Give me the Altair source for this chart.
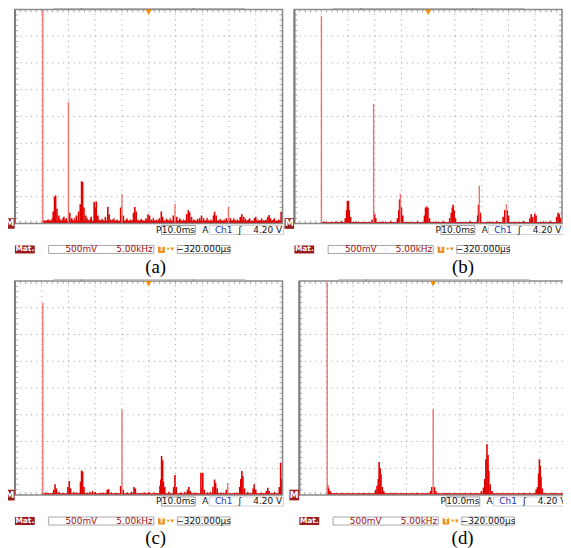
import altair as alt
import pandas as pd
import numpy as np

# ---------------- data (x in screen divisions 0..10, height in divisions 0..8) -------------
# light (thin, pinkish) spectral lines: (position, height)
a_light = [(1.04, 8.0), (2.00, 4.54), (4.00, 1.09), (5.98, 0.74), (7.98, 0.62)]
a_red = [(1.43, 0.45), (1.48, 1.0), (1.52, 1.05), (1.57, 0.55), (1.64, 0.3), (1.83, 0.25),
         (1.92, 0.2), (2.05, 0.4), (2.12, 0.2), (2.30, 0.3), (2.38, 0.45), (2.44, 0.72),
         (2.49, 1.58), (2.53, 1.55), (2.58, 0.6), (2.65, 0.3), (2.85, 0.25), (2.96, 0.8),
         (3.00, 0.6), (3.04, 0.82), (3.10, 0.3), (3.38, 0.25), (3.47, 0.62), (3.52, 0.35),
         (3.95, 0.6), (4.05, 0.3), (4.43, 0.4), (4.48, 0.62), (4.53, 0.45), (4.90, 0.2),
         (4.97, 0.35), (5.03, 0.3), (5.40, 0.2), (5.47, 0.45), (5.52, 0.25), (5.92, 0.3),
         (6.05, 0.25), (6.42, 0.35), (6.48, 0.5), (6.53, 0.42), (6.60, 0.25), (6.90, 0.2),
         (6.97, 0.3), (7.05, 0.2), (7.42, 0.3), (7.46, 0.44), (7.52, 0.3), (7.90, 0.2),
         (8.05, 0.2), (8.42, 0.25), (8.48, 0.35), (8.55, 0.25), (8.95, 0.2), (9.00, 0.25),
         (9.45, 0.25), (9.50, 0.32), (9.55, 0.2), (9.95, 0.44)]
a_noise = [(1.10, 0.12), (1.18, 0.1), (1.26, 0.15), (1.33, 0.12), (1.39, 0.2), (1.68, 0.18),
           (1.74, 0.12), (1.79, 0.2), (1.87, 0.15), (2.17, 0.15), (2.24, 0.22), (2.70, 0.2),
           (2.76, 0.12), (2.82, 0.18), (3.15, 0.15), (3.20, 0.1), (3.26, 0.18), (3.32, 0.12),
           (3.58, 0.15), (3.63, 0.1), (3.70, 0.2), (3.76, 0.12), (3.83, 0.15), (4.12, 0.12),
           (4.18, 0.2), (4.25, 0.1), (4.32, 0.15), (4.38, 0.12), (4.60, 0.15), (4.66, 0.1),
           (4.72, 0.18), (4.78, 0.12), (4.85, 0.1), (5.10, 0.15), (5.17, 0.22), (5.23, 0.1),
           (5.30, 0.15), (5.36, 0.12), (5.60, 0.1), (5.66, 0.18), (5.73, 0.12), (5.80, 0.2),
           (5.86, 0.1), (6.10, 0.12), (6.16, 0.2), (6.22, 0.1), (6.30, 0.15), (6.36, 0.12),
           (6.68, 0.15), (6.75, 0.1), (6.82, 0.18), (7.12, 0.12), (7.18, 0.22), (7.25, 0.1),
           (7.32, 0.15), (7.60, 0.12), (7.67, 0.18), (7.74, 0.1), (7.82, 0.15), (8.12, 0.12),
           (8.18, 0.2), (8.25, 0.1), (8.32, 0.15), (8.62, 0.18), (8.70, 0.12), (8.77, 0.2),
           (8.85, 0.1), (9.08, 0.15), (9.15, 0.1), (9.22, 0.2), (9.30, 0.12), (9.38, 0.15),
           (9.62, 0.12), (9.70, 0.2), (9.77, 0.1), (9.85, 0.15), (9.90, 0.12),
           (1.14, 0.08), (1.22, 0.14), (1.30, 0.09), (1.71, 0.1), (2.20, 0.1), (2.73, 0.14),
           (3.23, 0.13), (3.66, 0.16), (4.21, 0.14), (4.69, 0.13), (5.20, 0.13), (5.70, 0.14),
           (6.19, 0.14), (6.72, 0.13), (7.21, 0.14), (7.70, 0.13), (8.22, 0.14), (8.73, 0.15),
           (9.18, 0.13), (9.66, 0.15)]

b_light = [(1.01, 7.75), (2.96, 4.47), (3.96, 1.11), (6.91, 1.42), (7.92, 0.73)]
b_red = [(1.90, 0.2), (1.95, 0.5), (1.98, 0.85), (2.02, 0.85), (2.05, 0.5), (2.10, 0.25),
         (2.90, 0.15), (3.00, 0.35), (3.04, 0.2), (3.85, 0.2), (3.90, 0.5), (3.93, 0.9),
         (4.00, 0.6), (4.05, 0.3), (4.86, 0.3), (4.90, 0.6), (4.95, 0.64), (4.99, 0.58),
         (5.05, 0.2), (5.80, 0.2), (5.86, 0.4), (5.90, 0.6), (5.93, 0.7), (5.97, 0.5),
         (6.02, 0.2), (6.85, 0.3), (6.88, 0.7), (6.95, 0.4), (7.80, 0.25), (7.86, 0.5),
         (7.95, 0.5), (8.00, 0.3), (8.80, 0.2), (8.85, 0.35), (8.90, 0.25), (8.98, 0.37),
         (9.03, 0.3), (9.80, 0.25), (9.85, 0.4), (9.90, 0.35), (9.95, 0.2)]
b_noise = [(1.10, 0.08), (1.30, 0.06), (1.55, 0.08), (1.75, 0.1), (2.30, 0.08), (2.55, 0.07),
           (3.30, 0.08), (3.60, 0.1), (4.30, 0.07), (4.60, 0.1), (5.30, 0.08), (5.55, 0.1),
           (6.30, 0.07), (6.55, 0.1), (7.30, 0.08), (7.55, 0.1), (8.30, 0.07), (8.55, 0.1),
           (9.30, 0.08), (9.55, 0.1)]

c_light = [(1.04, 7.19), (4.00, 3.2), (7.95, 0.45)]
c_red = [(1.45, 0.2), (1.50, 0.4), (1.55, 0.25), (1.98, 0.3), (2.03, 0.52), (2.08, 0.25),
         (2.45, 0.5), (2.49, 0.92), (2.53, 0.88), (2.58, 0.3), (2.90, 0.15), (3.00, 0.12),
         (3.45, 0.2), (3.50, 0.22), (3.95, 0.34), (4.05, 0.2), (4.45, 0.3), (4.50, 0.25),
         (5.00, 0.12), (5.42, 0.35), (5.45, 0.58), (5.48, 1.46), (5.52, 1.3), (5.55, 0.5),
         (5.60, 0.3), (5.93, 0.3), (5.98, 0.75), (6.03, 0.3), (6.45, 0.2), (6.50, 0.3),
         (6.55, 0.15), (6.95, 0.83), (7.00, 0.3), (7.02, 0.83), (7.08, 0.2), (7.40, 0.3),
         (7.46, 0.58), (7.50, 0.45), (7.56, 0.25), (7.90, 0.2), (8.40, 0.3), (8.44, 0.6),
         (8.48, 0.9), (8.52, 0.7), (8.58, 0.25), (8.90, 0.25), (8.94, 0.4), (9.00, 0.2),
         (9.40, 0.15), (9.45, 0.27), (9.50, 0.15), (9.88, 0.3), (9.93, 1.2), (9.97, 0.6)]
c_noise = [(1.15, 0.1), (1.25, 0.08), (1.65, 0.12), (1.80, 0.08), (2.20, 0.12), (2.30, 0.1),
           (2.70, 0.1), (2.80, 0.12), (3.20, 0.08), (3.30, 0.1), (3.60, 0.1), (3.75, 0.08),
           (4.20, 0.1), (4.35, 0.12), (4.70, 0.08), (4.85, 0.1), (5.20, 0.1), (5.30, 0.08),
           (5.75, 0.12), (6.20, 0.1), (6.35, 0.12), (6.70, 0.1), (6.80, 0.08), (7.20, 0.1),
           (7.30, 0.12), (7.70, 0.1), (8.20, 0.08), (8.30, 0.1), (8.70, 0.12), (9.20, 0.1),
           (9.30, 0.08), (9.70, 0.12)]

d_light = [(1.04, 7.94), (5.00, 3.21)]
d_red = [(1.06, 0.37), (1.10, 0.25), (1.15, 0.15), (2.85, 0.2), (2.90, 0.35), (2.95, 0.6),
         (2.98, 1.24), (3.02, 1.0), (3.05, 0.78), (3.10, 0.3), (3.15, 0.15), (4.90, 0.15),
         (4.95, 0.3), (5.05, 0.3), (5.10, 0.15), (6.80, 0.15), (6.88, 0.28), (6.93, 0.6),
         (6.97, 1.34), (7.01, 1.9), (7.05, 1.5), (7.08, 0.9), (7.13, 0.4), (7.20, 0.15),
         (8.85, 0.22), (8.90, 0.3), (8.94, 0.8), (8.97, 1.34), (9.00, 1.1), (9.03, 0.68),
         (9.08, 0.25)]
d_noise = [(1.30, 0.06), (1.60, 0.08), (2.00, 0.06), (2.40, 0.08), (3.50, 0.08), (3.90, 0.06),
           (4.40, 0.08), (5.50, 0.08), (5.90, 0.06), (6.40, 0.08), (7.50, 0.08), (7.90, 0.06),
           (8.40, 0.08), (9.50, 0.08), (9.80, 0.06)]

captions = ["(a)", "(b)", "(c)", "(d)"]
caption_x = [5.26, 6.3, 5.26, 6.1]
floor_levels = [0.1, 0.06, 0.07, 0.07]
status_time = "10.0ms"
status_level = "4.20 V"
math_scale = "500mV"
math_freq = "5.00kHz"
trig_pos = "\u2212320.000\u00b5s"

# ---------------- geometry ----------------
DIV = 27.0
W, H = 282, 274
left_margin_px = [10, 10, 10, 15]      # space left of each frame inside its cell
YMIN, YMAX = -56 / DIV, 8 + 2 / DIV
ys = alt.Scale(domain=[YMIN, YMAX], nice=False, zero=False)

RED = "#e00000"
PINK = "#f07070"
GRID = "#9c9c9c"
FRAME = "#8a8a8a"
DARKRED = "#9b1c1c"
FONT = "DejaVu Sans"


def panel(i, light, red, noise):
    xmin = -left_margin_px[i] / DIV
    xs = alt.Scale(domain=[xmin, xmin + W / DIV], nice=False, zero=False)

    def seg_enc(ch):
        return ch.encode(
            x=alt.X("x:Q", scale=xs, axis=None), x2="x2:Q",
            y=alt.Y("y:Q", scale=ys, axis=None), y2="y2:Q")

    def rules(rows, **mk):
        df = pd.DataFrame(rows, columns=["x", "x2", "y", "y2"])
        return seg_enc(alt.Chart(df).mark_rule(**mk))

    def rects(rows, **mk):
        df = pd.DataFrame(rows, columns=["x", "x2", "y", "y2"])
        return seg_enc(alt.Chart(df).mark_rect(**mk))

    def texts(rows, font=FONT, **mk):
        df = pd.DataFrame(rows, columns=["x", "y", "t"])
        return alt.Chart(df).mark_text(baseline="middle", font=font, **mk).encode(
            x=alt.X("x:Q", scale=xs, axis=None),
            y=alt.Y("y:Q", scale=ys, axis=None),
            text="t:N")

    def spikes(pairs, **mk):
        return rules([(p, p, 0.0, min(h, 8.0)) for p, h in pairs], **mk)

    L = []
    # dotted graticule
    L.append(rules([(k, k, 0, 8) for k in range(1, 10)], color=GRID, strokeWidth=1,
                   strokeDash=[1, 4.4]))
    L.append(rules([(0, 10, k, k) for k in range(1, 8)], color=GRID, strokeWidth=1,
                   strokeDash=[1, 4.4]))
    # minor ticks on the frame edges
    t = 0.11
    edge = [(v, v, 8, 8 - t) for v in np.arange(0.2, 10, 0.2)]
    edge += [(v, v, 0, t) for v in np.arange(0.2, 10, 0.2)]
    edge += [(0, t, v, v) for v in np.arange(0.2, 8, 0.2)]
    edge += [(10, 10 - t, v, v) for v in np.arange(0.2, 8, 0.2)]
    L.append(rules(edge, color="#a8a8a8", strokeWidth=1))
    # spectrum
    L.append(rects([(light[0][0], 10, 0, floor_levels[i])], color=RED))
    L.append(spikes(noise, color=RED, strokeWidth=1.3))
    L.append(spikes(red, color=RED, strokeWidth=1.6))
    L.append(spikes(light, color=PINK, strokeWidth=1.4))
    # frame
    L.append(rects([(0, 10, 0, 8)], filled=False, stroke=FRAME, strokeWidth=1.6))
    L.append(rules([(0, 0, 0, 8)], color="#7c7c7c", strokeWidth=2))
    # record bar above the frame
    L.append(rules([(1.44, 8.6, 8.04, 8.04)], color="#b4b4b4", strokeWidth=1.4))
    L.append(rules([(2.48, 2.48, 8.0, 8.06), (6.67, 6.67, 8.0, 8.06)], color="#707070",
                   strokeWidth=1))
    # trigger-position marker
    L.append(alt.Chart(pd.DataFrame({"x": [5.0], "y": [7.9]})).mark_point(
        shape="triangle-down", filled=True, size=38, color="#f08c00", opacity=1).encode(
        x=alt.X("x:Q", scale=xs, axis=None), y=alt.Y("y:Q", scale=ys, axis=None)))
    # M reference marker
    L.append(rects([(-0.37, -0.01, -0.2, 0.2)], color=DARKRED))
    L.append(texts([(-0.19, 0.0, "M")], color="white", fontSize=9, fontWeight="bold"))
    # status line
    ys_c = -0.24
    L.append(rects([(5.48, 6.74, -0.07, -0.41)], fill="white", stroke="#9a9a9a",
                   strokeWidth=1))
    L.append(rects([(7.26, 10.04, -0.07, -0.41)], fill="white", stroke="#cfcfcf",
                   strokeWidth=1))
    L.append(texts([(5.37, ys_c, "P"), (6.11, ys_c, status_time), (7.11, ys_c, "A"),
                    (8.41, ys_c, "\u0283")], color="#111111", fontSize=9))
    L.append(texts([(9.98, ys_c, status_level)], color="#111111", fontSize=9, align="right"))
    L.append(texts([(7.8, ys_c, "Ch1")], color="#1c2fb0", fontSize=9))
    # math line
    ym = -0.97
    L.append(rects([(0, 0.74, -0.82, -1.12)], color=DARKRED))
    L.append(texts([(0.37, ym, "Mat.")], color="white", fontSize=7.5, fontWeight="bold"))
    L.append(rects([(1.26, 5.19, -0.82, -1.12), (6.07, 8.04, -0.82, -1.12)], fill="white",
                   stroke="#a8a8a8", strokeWidth=1))
    L.append(texts([(2.48, ym, math_scale)], color="#a01010", fontSize=9))
    L.append(texts([(5.15, ym, math_freq)], color="#a01010", fontSize=9, align="right"))
    L.append(rects([(5.35, 5.6, -0.85, -1.1)], color="#f09020"))
    L.append(texts([(5.48, ym, "T")], color="white", fontSize=7, fontWeight="bold"))
    L.append(texts([(5.8, ym, "\u2022\u25be")], color="#f08c00", fontSize=7))
    L.append(texts([(7.05, ym, trig_pos)], color="#111111", fontSize=9))
    # caption
    L.append(texts([(caption_x[i], -1.62, captions[i])], font="Liberation Serif",
                   fontSize=19, color="black"))
    return alt.layer(*L).properties(width=W, height=H)


panels = [panel(0, a_light, a_red, a_noise),
          panel(1, b_light, b_red, b_noise),
          panel(2, c_light, c_red, c_noise),
          panel(3, d_light, d_red, d_noise)]

chart = alt.concat(*panels, columns=2, spacing=0, bounds="flush").properties(
    padding={"left": -3, "top": -4, "right": -6, "bottom": 0},
    background="white",
).configure_view(stroke=None)

chart.save("out.html", embed_options={"renderer": "svg", "actions": False})
